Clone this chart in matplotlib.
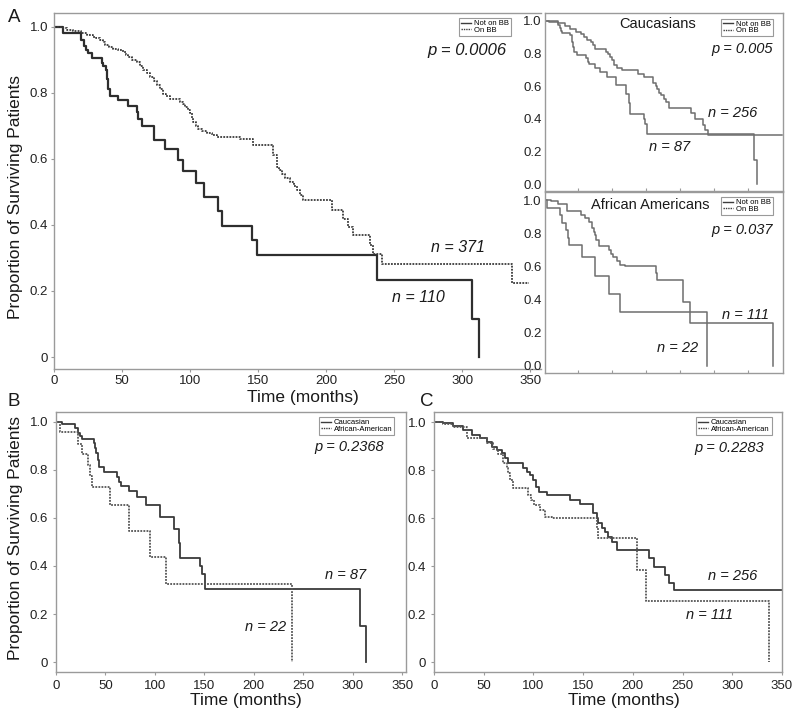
import matplotlib
matplotlib.use("Agg")
import matplotlib.pyplot as plt
from matplotlib.lines import Line2D

plt.rcParams['font.family'] = ['Liberation Sans', 'DejaVu Sans']

# ---------------- data (months, survival after each event) ----------------
# Panel A: all patients
nobb_t = [0, 6.6, 20, 21.5, 23, 25, 27.5, 35, 36, 38, 39, 39.7, 41, 47, 54.5, 60.6, 61.8,
          64.3, 73.6, 81.4, 90.8, 94.4, 104.2, 110.1, 120.2, 123.1, 145.2, 149.4, 237.2,
          307.1, 312.5]
nobb_s = [1.0, 0.981, 0.96, 0.94, 0.93, 0.92, 0.905, 0.89, 0.88, 0.87, 0.84, 0.81, 0.79,
          0.777, 0.759, 0.74, 0.72, 0.70, 0.656, 0.629, 0.597, 0.563, 0.527, 0.484, 0.442,
          0.397, 0.355, 0.308, 0.232, 0.116, 0.0]

onbb_t = [0, 5, 9, 14, 20, 24, 28.7, 31, 33.6, 35.5, 37.3, 40, 43.4, 47, 50.8, 52.5, 54.5,
          57.5, 60.6, 63, 65.5, 68, 70.4, 73, 75.3, 78, 80.2, 82.5, 85.1, 92.5, 94.5, 96.2,
          98, 99.8, 101, 102.3, 104, 106, 109, 112.1, 116, 119.5, 136.6, 146.4, 159.9, 161.2,
          163.6, 165.5, 167.3, 170, 173.4, 176, 178.3, 180.5, 183.2, 204.1, 212.7, 216.3,
          220, 232.3, 234.7, 240.9, 336.5, 349]
onbb_s = [1.0, 0.995, 0.99, 0.986, 0.982, 0.975, 0.969, 0.964, 0.959, 0.952, 0.944, 0.938,
          0.933, 0.928, 0.923, 0.915, 0.908, 0.9, 0.893, 0.88, 0.868, 0.858, 0.848, 0.835,
          0.822, 0.81, 0.797, 0.79, 0.782, 0.772, 0.765, 0.757, 0.747, 0.737, 0.724, 0.711,
          0.7, 0.691, 0.684, 0.678, 0.672, 0.666, 0.661, 0.641, 0.638, 0.61, 0.575, 0.565,
          0.555, 0.543, 0.53, 0.518, 0.505, 0.49, 0.474, 0.444, 0.419, 0.394, 0.368, 0.338,
          0.313, 0.283, 0.224, 0.224]

# Caucasian, not on BB (n = 87)
cnb_t = [0, 6.2, 19.7, 22.1, 24.7, 26.4, 38.2, 39.9, 40.9, 42.2, 43.3, 48.3, 61.8, 63.5,
         65.8, 73.6, 82, 91.4, 104.9, 119.7, 124.7, 125.8, 146, 148, 150.3, 307.6, 313.3]
cnb_s = [1.0, 0.99, 0.972, 0.954, 0.94, 0.927, 0.91, 0.889, 0.868, 0.84, 0.81, 0.79, 0.771,
         0.75, 0.733, 0.712, 0.686, 0.654, 0.605, 0.554, 0.494, 0.432, 0.398, 0.366, 0.305,
         0.151, 0.0]

# African American, not on BB (n = 22)
anb_t = [0, 3.9, 22.1, 26.4, 32.2, 34.2, 36.5, 55, 73.6, 95.5, 111.6, 239.2]
anb_s = [1.0, 0.955, 0.909, 0.864, 0.818, 0.773, 0.727, 0.655, 0.545, 0.436, 0.327, 0.0]

# Caucasian, on BB (n = 256)
cob_t = [0, 9.4, 19.5, 29.5, 37.9, 46.3, 53, 58, 63.1, 68.1, 71.5, 74.8, 89.9, 93.3, 96.6,
         100, 102.7, 106, 113.4, 136.9, 147, 159.7, 163.8, 165.4, 168.8, 172.1, 175.5, 178.9,
         183.9, 215.8, 220.8, 232.6, 235.9, 240.9, 350]
cob_s = [1.0, 0.996, 0.986, 0.968, 0.947, 0.933, 0.919, 0.899, 0.885, 0.871, 0.85, 0.829,
         0.808, 0.794, 0.78, 0.76, 0.732, 0.711, 0.697, 0.676, 0.658, 0.621, 0.60, 0.58,
         0.558, 0.544, 0.524, 0.503, 0.468, 0.433, 0.399, 0.364, 0.329, 0.301, 0.301]

# African American, on BB (n = 111)
aob_t = [0, 9.4, 19.5, 33, 53, 59.7, 64.8, 69.8, 73.2, 74.8, 76.5, 79.9, 95, 97.3, 100.7,
         106.7, 111.7, 118.5, 163.8, 165.4, 204, 213.4, 336.6]
aob_s = [1.0, 0.993, 0.98, 0.933, 0.912, 0.89, 0.87, 0.83, 0.81, 0.79, 0.76, 0.725, 0.697,
         0.676, 0.656, 0.635, 0.607, 0.60, 0.558, 0.517, 0.385, 0.257, 0.0]

xticks = [0, 50, 100, 150, 200, 250, 300, 350]
yticks = [0, 0.2, 0.4, 0.6, 0.8, 1.0]
ylabels_main = ['0', '0.2', '0.4', '0.6', '0.8', '1.0']
ylabels_inset = ['0.0', '0.2', '0.4', '0.6', '0.8', '1.0']

# ---------------- layout helpers ----------------
W, H = 800, 718
fig = plt.figure(figsize=(W / 100, H / 100), dpi=100)


def box(l, t, r, b):
    return [l / W, 1 - b / H, (r - l) / W, (b - t) / H]


def ptext(x, y, s, **kw):
    kw.setdefault('ha', 'center')
    kw.setdefault('va', 'center')
    fig.text(x / W, 1 - y / H, s, **kw)


SPINE = '#9a9a9a'
DARK = '#3c3c3c'


def style(ax, xlim, ylim, ylabels, xlabels=True, fs=10, pad=3):
    ax.set_xlim(*xlim)
    ax.set_ylim(*ylim)
    for s in ax.spines.values():
        s.set_color(SPINE)
        s.set_linewidth(1.0)
    ax.set_yticks(yticks)
    ax.set_yticklabels(ylabels)
    ax.set_xticks(xticks)
    if xlabels:
        ax.set_xticklabels([str(v) for v in xticks])
    else:
        ax.set_xticklabels([])
    ax.tick_params(axis='both', colors=SPINE, labelcolor='#222222', labelsize=fs,
                   length=2.5, width=0.8, pad=pad)


def leg(ax, labels, x, y, styles):
    handles = [Line2D([], [], color=DARK, lw=1.0, ls=st) for st in styles]
    lg = ax.legend(handles, labels, loc='upper right', bbox_to_anchor=(x, y),
                   fontsize=5.5, frameon=True, fancybox=False, framealpha=1,
                   edgecolor=SPINE, borderpad=0.25, labelspacing=-0.1, handlelength=1.3,
                   handletextpad=0.4, borderaxespad=0)
    lg.get_frame().set_linewidth(0.8)


DOT = (0, (1.0, 0.7))

# ---------------- Panel A ----------------
axA = fig.add_axes(box(54.3, 13, 541, 369))
axA.step(nobb_t, nobb_s, where='post', color='#2e2e2e', lw=1.6)
axA.step(onbb_t, onbb_s, where='post', color='#3a3a3a', lw=1.3, ls=DOT)
style(axA, (0, 358), (-0.036, 1.041), ylabels_main, fs=9.5, pad=2)
axA.spines['right'].set_visible(False)
leg(axA, ['Not on BB', 'On BB'], 0.938, 0.986, ['-', DOT])

# ---------------- Inset: Caucasians ----------------
axC1 = fig.add_axes(box(544.5, 13, 783, 191))
axC1.step(cob_t, cob_s, where='post', color='#6e6e6e', lw=1.1)
axC1.step(cnb_t, cnb_s, where='post', color='#6e6e6e', lw=1.1)
style(axC1, (0, 351), (-0.041, 1.047), ylabels_inset, xlabels=False, fs=9.5)
axC1.set_xticks([50, 100, 150, 200, 250, 300])
axC1.tick_params(axis='x', direction='in', length=2)
axC1.tick_params(axis='y', length=0, pad=2)
leg(axC1, ['Not on BB', 'On BB'], 0.957, 0.969, ['-', DOT])

# ---------------- Inset: African Americans ----------------
axA1 = fig.add_axes(box(544.5, 191.5, 783, 373.3))
axA1.step(aob_t, aob_s, where='post', color='#6e6e6e', lw=1.1)
axA1.step(anb_t, anb_s, where='post', color='#6e6e6e', lw=1.1)
style(axA1, (0, 351), (-0.046, 1.053), ylabels_inset, xlabels=False, fs=9.5)
axA1.set_xticks([50, 100, 150, 200, 250, 300])
axA1.tick_params(axis='x', direction='in', length=2)
axA1.tick_params(axis='y', length=0, pad=2)
leg(axA1, ['Not on BB', 'On BB'], 0.957, 0.97, ['-', DOT])

# ---------------- Panel B ----------------
axB = fig.add_axes(box(56, 412, 406, 672.3))
axB.step(cnb_t, cnb_s, where='post', color='#3a3a3a', lw=1.3)
axB.step(anb_t, anb_s, where='post', color='#555555', lw=1.3, ls=DOT)
style(axB, (0, 354), (-0.042, 1.040), ylabels_main, fs=9.5)
leg(axB, ['Caucasian', 'African-American'], 0.966, 0.98, ['-', DOT])

# ---------------- Panel C ----------------
axCc = fig.add_axes(box(434, 412, 782, 672))
axCc.step(cob_t, cob_s, where='post', color='#3a3a3a', lw=1.3)
axCc.step(aob_t, aob_s, where='post', color='#555555', lw=1.3, ls=DOT)
style(axCc, (0, 350), (-0.040, 1.043), ylabels_main, fs=9.5)
leg(axCc, ['Caucasian', 'African-American'], 0.97, 0.98, ['-', DOT])

# ---------------- texts ----------------
TX = '#1a1a1a'
ptext(14, 17, 'A', fontsize=13.5, color=TX)
ptext(14, 402, 'B', fontsize=13.5, color=TX)
ptext(427, 402, 'C', fontsize=13.5, color=TX)

ptext(16, 197, 'Proportion of Surviving Patients', fontsize=12.5, rotation=90, color=TX)
ptext(16, 538, 'Proportion of Surviving Patients', fontsize=12.5, rotation=90, color=TX)
ptext(303, 398, 'Time (months)', fontsize=12.5, color=TX)
ptext(246, 701, 'Time (months)', fontsize=12.5, color=TX)
ptext(624, 701, 'Time (months)', fontsize=12.5, color=TX)

it = dict(style='italic', color=TX)
ptext(467, 51, 'p = 0.0006', fontsize=12, **it)
ptext(458, 248, 'n = 371', fontsize=11.5, **it)
ptext(418, 297, 'n = 110', fontsize=11.5, **it)

ptext(658, 24, 'Caucasians', fontsize=10.5, color=TX)
ptext(742, 49, 'p = 0.005', fontsize=10.5, **it)
ptext(733, 113, 'n = 256', fontsize=10.5, **it)
ptext(670, 147, 'n = 87', fontsize=10.5, **it)

ptext(650, 205, 'African Americans', fontsize=10.5, color=TX)
ptext(742, 230, 'p = 0.037', fontsize=10.5, **it)
ptext(746, 315, 'n = 111', fontsize=10.5, **it)
ptext(678, 348, 'n = 22', fontsize=10.5, **it)

ptext(349.5, 447, 'p = 0.2368', fontsize=10.5, **it)
ptext(345.5, 575, 'n = 87', fontsize=10.5, **it)
ptext(266, 627, 'n = 22', fontsize=10.5, **it)

ptext(729, 448, 'p = 0.2283', fontsize=10.5, **it)
ptext(733, 576, 'n = 256', fontsize=10.5, **it)
ptext(709, 615, 'n = 111', fontsize=10.5, **it)

fig.savefig('out.png', dpi=100)
